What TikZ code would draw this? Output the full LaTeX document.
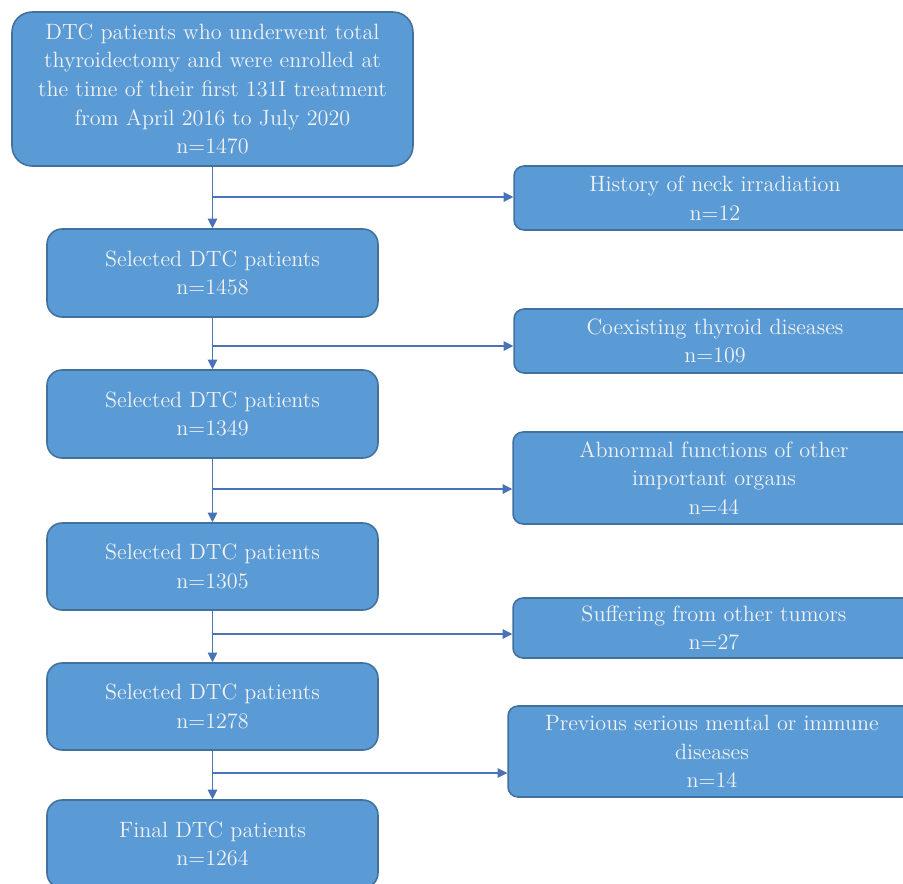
\documentclass[tikz,border=0pt]{standalone}
\usetikzlibrary{arrows.meta}

\definecolor{boxfill}{HTML}{5B9BD5}
\definecolor{boxline}{HTML}{41719C}
\definecolor{arrline}{HTML}{4A72B8}

\tikzset{
  stage/.style={draw=boxline, line width=0.9pt, fill=boxfill, rounded corners=0.3cm,
    align=center, text=white!95!black, inner sep=0pt,
    font=\fontsize{12.6}{16.3}\selectfont},
  excluded/.style={stage, rounded corners=0.2cm, minimum width=8.04cm},
  flow/.style={draw=arrline, line width=0.6pt, -{Triangle[length=5.5pt,width=5.5pt]}}
}

\begin{document}
\begin{tikzpicture}[x=0.02cm,y=-0.02cm]
\useasboundingbox (0,0) rectangle (903,883);
\fill[white] (0,0) rectangle (903,883);

% main column
\node[stage, rounded corners=0.4cm, minimum width=8.02cm, minimum height=3.08cm] (enrolled) at (212.5,89)
  {DTC patients who underwent total\\thyroidectomy and were enrolled at\\the time of their first 131I treatment\\from April 2016 to July 2020\\n=1470};
\node[stage, minimum width=6.62cm, minimum height=1.76cm] (sel1) at (212.5,273) {Selected DTC patients\\n=1458};
\node[stage, minimum width=6.62cm, minimum height=1.76cm] (sel2) at (212.5,414) {Selected DTC patients\\n=1349};
\node[stage, minimum width=6.62cm, minimum height=1.74cm] (sel3) at (212.5,566.5) {Selected DTC patients\\n=1305};
\node[stage, minimum width=6.62cm, minimum height=1.74cm] (sel4) at (212.5,706.5) {Selected DTC patients\\n=1278};
\node[stage, minimum width=6.62cm, minimum height=1.76cm] (final) at (212.5,844) {Final DTC patients\\n=1264};

% exclusions
\node[excluded, minimum height=1.28cm] (ex1) at (715,198) {History of neck irradiation\\n=12};
\node[excluded, minimum height=1.28cm] (ex2) at (715,341) {Coexisting thyroid diseases\\n=109};
\node[excluded, minimum height=1.84cm] (ex3) at (714,478) {Abnormal functions of other\\important organs\\n=44};
\node[excluded, minimum height=1.2cm] (ex4) at (714,628) {Suffering from other tumors\\n=27};
\node[excluded, minimum width=8.16cm, minimum height=1.82cm] (ex5) at (712,751.5) {Previous serious mental or immune\\diseases\\n=14};

% branch points
\coordinate (b1) at (212.5,197);
\coordinate (b2) at (212.5,346);
\coordinate (b3) at (212.5,489);
\coordinate (b4) at (212.5,634);
\coordinate (b5) at (212.5,773);

\draw[flow] (enrolled) -- (sel1);
\draw[flow] (sel1) -- (sel2);
\draw[flow] (sel2) -- (sel3);
\draw[flow] (sel3) -- (sel4);
\draw[flow] (sel4) -- (final);

\draw[flow] (b1) -- (b1 -| ex1.west);
\draw[flow] (b2) -- (b2 -| ex2.west);
\draw[flow] (b3) -- (b3 -| ex3.west);
\draw[flow] (b4) -- (b4 -| ex4.west);
\draw[flow] (b5) -- (b5 -| ex5.west);

\end{tikzpicture}
\end{document}
